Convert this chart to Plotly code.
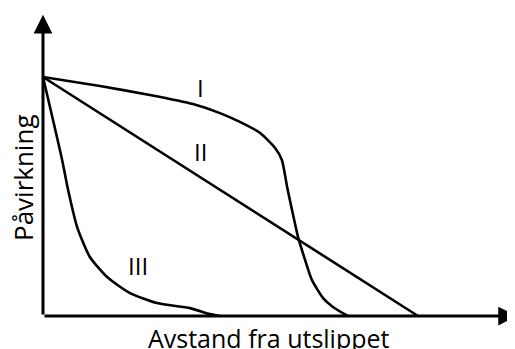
import plotly.graph_objects as go

# distance from the outlet vs. impact, three schematic types
dist_I = [0, 1.52, 2.85, 4.00, 4.72, 5.25, 5.79, 6.19, 6.37, 6.51, 6.64, 6.80, 6.99, 7.17, 7.47, 7.73, 8.13]
imp_I = [10, 9.62, 9.25, 8.87, 8.49, 8.12, 7.66, 7.03, 6.53, 5.40, 4.44, 3.31, 2.34, 1.51, 0.75, 0.38, 0]

dist_II = [0, 10]
imp_II = [10, 0]

dist_III = [0, 0.51, 0.67, 0.91, 1.25, 1.71, 2.32, 3.04, 3.92, 4.45, 4.72]
imp_III = [10, 6.53, 5.27, 3.72, 2.47, 1.63, 0.96, 0.54, 0.33, 0.08, 0]

curve_names = ['I', 'II', 'III']
label_x = [4.19, 4.19, 2.53]
label_y = [9.58, 6.90, 2.13]

x_title = 'Avstand fra utslippet'
y_title = 'Påvirkning'
x_end = 12.64
y_end = 12.6

FONT = 'Open Sans'
W, H = 507, 341  # page adds an 8px body margin

fig = go.Figure()
for xs, ys, nm in [(dist_I, imp_I, 'I'), (dist_II, imp_II, 'II'), (dist_III, imp_III, 'III')]:
    fig.add_trace(go.Scatter(x=xs, y=ys, mode='lines', name=nm,
                             line=dict(color='black', width=2.6, shape='spline', smoothing=0.6),
                             showlegend=False, hoverinfo='skip'))

annots = []
for nm, lx, ly in zip(curve_names, label_x, label_y):
    annots.append(dict(x=lx, y=ly, text=nm, showarrow=False,
                       font=dict(family=FONT, size=24, color='black')))

# axes with arrowheads
for tx, ty in [(x_end, 0), (0, y_end)]:
    annots.append(dict(x=tx, y=ty, ax=0, ay=0, xref='x', yref='y', axref='x', ayref='y',
                       text='', showarrow=True, arrowhead=2, arrowsize=1.25, arrowwidth=3,
                       arrowcolor='black', standoff=0, startstandoff=0))

annots.append(dict(x=(269 - 8) / W, y=1 - (337.5 - 8) / H, xref='paper', yref='paper',
                   text=x_title, showarrow=False, xanchor='center', yanchor='middle',
                   font=dict(family=FONT, size=25, color='black')))
annots.append(dict(x=(23 - 8) / W, y=1 - (178 - 8) / H, xref='paper', yref='paper',
                   text=y_title, textangle=-90, showarrow=False,
                   xanchor='center', yanchor='middle',
                   font=dict(family=FONT, size=26, color='black')))

fig.update_layout(
    width=W, height=H,
    margin=dict(l=0, r=0, t=0, b=0, autoexpand=False),
    plot_bgcolor='white', paper_bgcolor='white',
    xaxis=dict(range=[-35 / 37.5, 472 / 37.5], visible=False, fixedrange=True),
    yaxis=dict(range=[-33 / 23.9, 308 / 23.9], visible=False, fixedrange=True),
    annotations=annots,
)

fig.write_html('out.html')
